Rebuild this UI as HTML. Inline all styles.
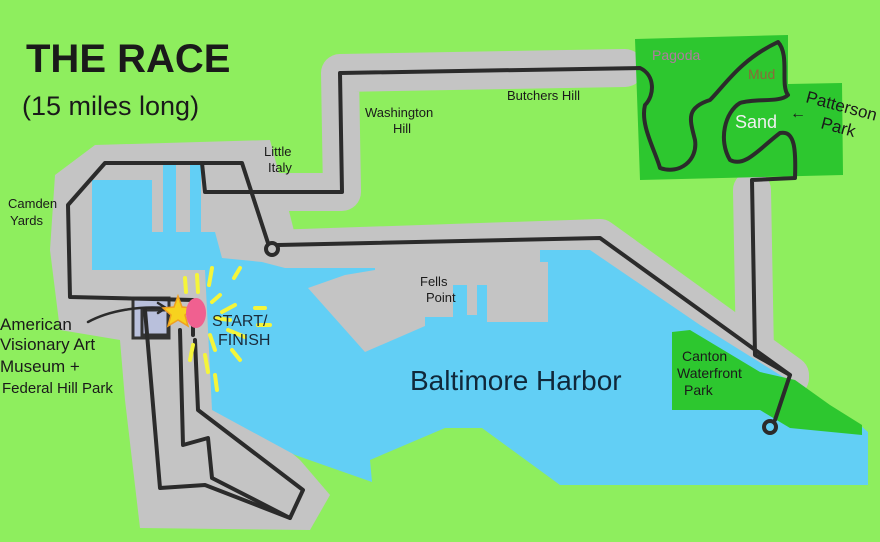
<!DOCTYPE html>
<html><head><meta charset="utf-8"><style>
html,body{margin:0;padding:0;background:#8eee5e;}
svg{display:block}
text{font-family:"Liberation Sans",sans-serif;}
</style></head><body>
<svg width="880" height="542" viewBox="0 0 880 542" xmlns="http://www.w3.org/2000/svg">
<rect width="880" height="542" fill="#8eee5e"/>
<!-- gray roads -->
<g stroke="#c4c4c4" stroke-width="38" fill="none" stroke-linejoin="round" stroke-linecap="round">
<path d="M205,192 L342,192 L340,73 L625,68"/>
<path d="M272,249 L600,238 L790,375"/>
<path d="M752,190 L755,355 L790,378"/>
</g>
<polygon fill="#c4c4c4" points="55,175 95,145 270,140 290,215 300,255 560,245 600,240 700,320 690,340 560,330 300,330 250,340 230,400 300,460 330,495 310,530 140,528 125,400 120,340 60,330 50,250"/>
<!-- blue harbor -->
<polygon fill="#62cff5" points="92,180 152,180 152,232 163,232 163,165 176,165 176,232 190,232 190,165 201,165 201,232 215,232 222,258 262,262 285,268 375,268 540,268 540,250 590,250 700,325 860,425 868,432 868,485 560,485 482,428 445,428 370,460 372,482 295,455 212,410 205,270 92,270"/>
<!-- fells point gray -->
<polygon fill="#c4c4c4" points="308,288 345,275 375,270 375,262 548,262 548,322 487,322 487,285 477,285 477,315 467,315 467,285 453,285 453,317 425,317 425,326 365,352"/>
<!-- parks -->
<polygon fill="#2dc72f" points="635,39 788,35 788,84 842,83 843,175 640,180"/>
<polygon fill="#2dc72f" points="672,332 690,330 760,372 795,380 830,405 862,425 862,435 790,428 760,410 672,410"/>
<!-- museum box -->
<rect x="133" y="298" width="36" height="40" fill="#b9c0dc" stroke="#333" stroke-width="3"/>
<rect x="142" y="310" width="26" height="25" fill="#b9c0dc" stroke="#333" stroke-width="3"/>
<!-- route -->
<g stroke="#2b2b2b" stroke-width="4" fill="none" stroke-linejoin="round" stroke-linecap="round">
<path d="M193,335 L193,300 L70,297 L68,205 L105,163 L242,163 L268,243"/>
<circle cx="272" cy="249" r="6"/>
<path d="M278,245 L600,238 L790,375 L775,420"/>
<circle cx="770" cy="427" r="6"/>
<path d="M202,163 L205,192 L342,192 L340,73 L640,68 C655,75 655,95 645,105 C640,125 655,150 660,168 C680,175 698,160 695,140 C690,120 685,108 710,100 C725,85 740,60 778,42 C790,55 780,85 788,95 C780,103 755,98 740,103 C725,112 718,140 730,160 C745,168 760,148 780,133 C795,130 796,150 795,178 L752,180 L755,355 L790,375"/>
<path d="M145,310 L160,488 L205,485 L290,518 L303,490 L198,410 L195,340"/>
<path d="M180,330 L183,445 L208,438 L212,478 L290,518"/>
<path d="M88,322 C110,310 140,306 165,308" stroke-width="2.5"/>
<path d="M158,303 L166,308 L158,313" stroke-width="2.5"/>
</g>
<!-- start marker -->
<g stroke="#f5f53a" stroke-width="4" stroke-linecap="round">
<line x1="185" y1="278" x2="186" y2="292"/><line x1="197" y1="275" x2="198" y2="292"/>
<line x1="212" y1="268" x2="209" y2="285"/><line x1="240" y1="268" x2="234" y2="278"/>
<line x1="220" y1="295" x2="212" y2="302"/><line x1="235" y1="305" x2="222" y2="312"/>
<line x1="255" y1="308" x2="265" y2="308"/><line x1="215" y1="318" x2="230" y2="320"/>
<line x1="258" y1="325" x2="270" y2="325"/><line x1="228" y1="330" x2="245" y2="337"/>
<line x1="210" y1="335" x2="215" y2="350"/><line x1="232" y1="350" x2="240" y2="360"/>
<line x1="205" y1="355" x2="208" y2="372"/><line x1="215" y1="375" x2="217" y2="390"/>
<line x1="193" y1="345" x2="190" y2="360"/>
</g>
<polygon fill="#f7d21e" stroke="#f0a020" stroke-width="1.5" points="178,296 182,307 193,308 185,315 188,326 178,320 168,326 171,315 163,308 174,307"/>
<ellipse cx="196" cy="313" rx="10" ry="15" fill="#f06090"/>
<!-- text -->
<text x="26" y="72" font-size="40" font-weight="bold" fill="#1a1a1a">THE RACE</text>
<text x="22" y="115" font-size="27" fill="#1a1a1a">(15 miles long)</text>
<g font-size="13" fill="#1a1a1a">
<text x="264" y="156">Little</text><text x="268" y="172">Italy</text>
<text x="365" y="117">Washington</text><text x="393" y="133">Hill</text>
<text x="507" y="100">Butchers Hill</text>
<text x="8" y="208">Camden</text><text x="10" y="225">Yards</text>
<text x="420" y="286">Fells</text><text x="426" y="302">Point</text>
<text x="682" y="361" font-size="14">Canton</text><text x="677" y="378" font-size="14">Waterfront</text><text x="684" y="395" font-size="14">Park</text>
</g>
<g font-size="17" fill="#1a1a1a">
<text x="0" y="330">American</text><text x="0" y="350">Visionary Art</text><text x="0" y="372">Museum +</text>
<text x="2" y="393" font-size="15">Federal Hill Park</text>
</g>
<text x="212" y="326" font-size="16" fill="#1a2a3a">START/</text>
<text x="218" y="345" font-size="16" fill="#1a2a3a">FINISH</text>
<text x="410" y="390" font-size="28" fill="#10283a">Baltimore Harbor</text>
<text x="652" y="60" font-size="14" fill="#b07aa0">Pagoda</text>
<text x="748" y="79" font-size="14" fill="#8a6a3a">Mud</text>
<text x="735" y="128" font-size="18" fill="#f0f0f0">Sand</text>
<text x="790" y="118" font-size="16" fill="#1a1a1a">← </text>
<text x="805" y="102" font-size="17" fill="#1a1a1a" transform="rotate(15 805 102)">Patterson</text>
<text x="820" y="128" font-size="17" fill="#1a1a1a" transform="rotate(15 820 128)">Park</text>
</svg>
</body></html>
